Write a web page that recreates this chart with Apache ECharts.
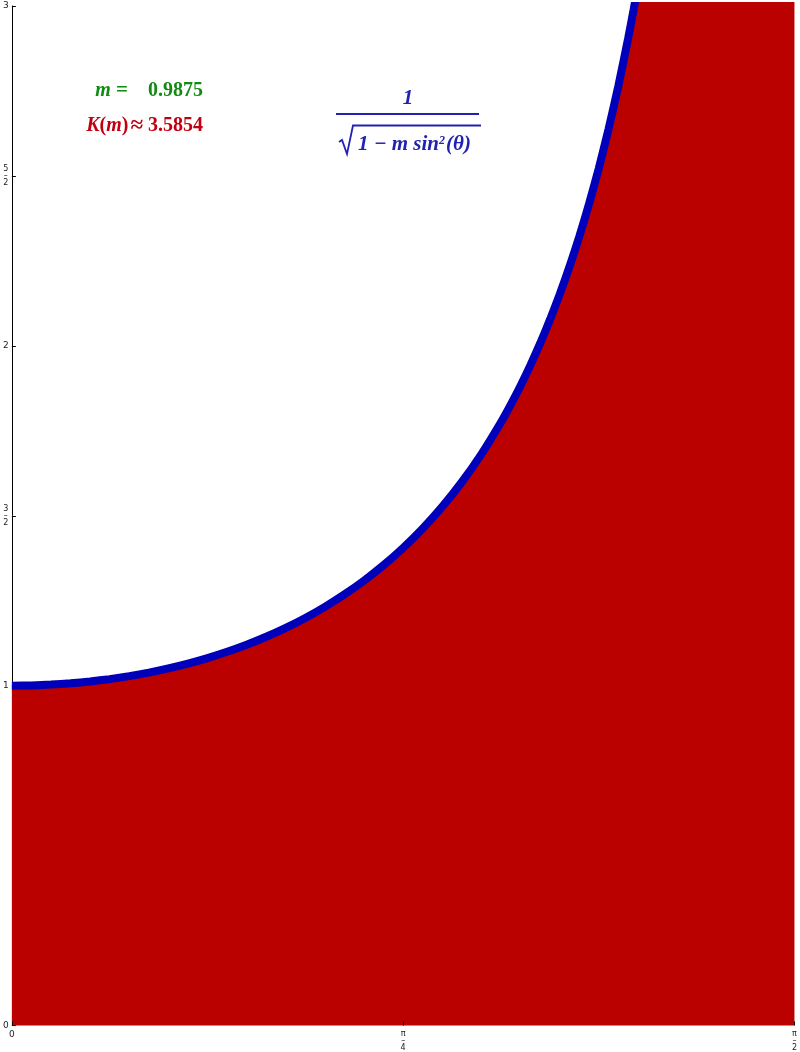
<!DOCTYPE html>
<html>
<head>
<meta charset="utf-8">
<script src="https://cdn.jsdelivr.net/npm/echarts@6/dist/echarts.min.js"></script>
<style>
html,body{margin:0;padding:0;background:#fff;}
#chart{width:800px;height:1052px;}
</style>
</head>
<body>
<div id="chart"></div>
<script>
// theta in degrees (axis runs 0..90 degrees = 0..pi/2)
var thetaDeg = [0, 2.25, 4.5, 6.75, 9, 11.25, 13.5, 15.75, 18, 20.25, 22.5, 24.75, 27, 29.25, 31.5, 33.75, 36, 38.25, 40.5, 42.75, 45, 47.25, 49.5, 51.75, 54, 56.25, 57.375, 58.5, 59.625, 60.75, 61.875, 63, 64.125, 65.25, 66.375, 67.5, 68.625, 69.75, 70.875, 71.5, 72, 74, 76.5, 81, 90];
// integrand values (clipped above 3 by the frame)
var integrand = [1, 1.0008, 1.0031, 1.0069, 1.0123, 1.0193, 1.0281, 1.0385, 1.0508, 1.0650, 1.0812, 1.0997, 1.1205, 1.1439, 1.1701, 1.1994, 1.2320, 1.2685, 1.3091, 1.3546, 1.4055, 1.4625, 1.5267, 1.5993, 1.6815, 1.7753, 1.8272, 1.8828, 1.9426, 2.0070, 2.0764, 2.1515, 2.2329, 2.3213, 2.4176, 2.5228, 2.6382, 2.7650, 2.9050, 2.9891, 3.0600, 3.380, 3.883, 5.222, 8.944];
var xTickValues = [0, 45, 90];
var xTickLabels = ['0', '{f|π}\n{f|–}\n{f|4}', '{f|π}\n{f|–}\n{f|2}'];
var yTickValues = [0, 1, 1.5, 2, 2.5, 3];
var yTickLabels = ['0', '1', '{f|3}\n{f|–}\n{f|2}', '2', '{f|5}\n{f|–}\n{f|2}', '3'];
var mValue = '0.9875';
var kValue = '3.5854';

var chart = echarts.init(document.getElementById('chart'), null, {renderer: 'canvas'});
var pts = thetaDeg.map(function (t, i) { return [t, integrand[i]]; });
var fracRich = {f: {fontSize: 8, lineHeight: 7, fontFamily: 'DejaVu Sans', color: '#222'}};
var SERIF = 'Liberation Serif';
var GREEN = '#138a13', RED = '#c00010', BLUE = '#2222b0';
function rs(color, size, italic) {
  return {fontSize: size, fontFamily: SERIF, fontWeight: 'bold', fontStyle: italic ? 'italic' : 'normal', fill: color, color: color};
}

var option = {
  backgroundColor: '#ffffff',
  animation: false,
  grid: {left: 11, right: 5, top: 6, bottom: 26, containLabel: false},
  xAxis: {
    type: 'value', min: 0, max: 90, interval: 45, z: 5,
    axisLine: {show: false},
    axisTick: {show: true, inside: true, length: 4, customValues: xTickValues, lineStyle: {color: '#000', width: 1}},
    axisLabel: {
      customValues: xTickValues, margin: 5, fontSize: 9, fontFamily: 'DejaVu Sans', color: '#222',
      rich: fracRich,
      formatter: function (v) { return xTickLabels[xTickValues.indexOf(v)]; }
    },
    splitLine: {show: false}
  },
  yAxis: {
    type: 'value', min: 0, max: 3, interval: 0.5,
    axisLine: {show: true, lineStyle: {color: '#000', width: 1}},
    axisTick: {show: true, inside: true, length: 4, customValues: yTickValues, lineStyle: {color: '#000', width: 1}},
    axisLabel: {
      customValues: yTickValues, margin: 6, align: 'center', fontSize: 9, fontFamily: 'DejaVu Sans', color: '#222',
      rich: fracRich,
      formatter: function (v) { return yTickLabels[yTickValues.indexOf(v)]; }
    },
    splitLine: {show: false}
  },
  series: [{
    type: 'line',
    data: pts,
    smooth: 0.2,
    symbol: 'none',
    clip: true,
    z: 2,
    lineStyle: {color: '#0000bb', width: 8, cap: 'butt'},
    areaStyle: {color: '#bb0000', opacity: 1}
  }],
  graphic: [
    {type: 'text', x: 128, y: 91, style: {
      text: '{i|m}{n|\u2005=}', align: 'right', verticalAlign: 'middle',
      rich: {i: rs(GREEN, 20, true), n: rs(GREEN, 21, false)}
    }},
    {type: 'text', x: 148, y: 91, style: {text: mValue, font: 'bold 20px "Liberation Serif"', fill: GREEN, align: 'left', verticalAlign: 'middle'}},
    {type: 'text', x: 143, y: 126, style: {
      text: '{i|K}{n|(}{i|m}{n|)}{a|\u200a≈}', align: 'right', verticalAlign: 'middle',
      rich: {i: rs(RED, 20, true), n: rs(RED, 20, false), a: rs(RED, 23, false)}
    }},
    {type: 'text', x: 148, y: 126, style: {text: kValue, font: 'bold 20px "Liberation Serif"', fill: RED, align: 'left', verticalAlign: 'middle'}},
    {type: 'text', x: 408, y: 99, style: {text: '1', font: 'italic bold 21px "Liberation Serif"', fill: BLUE, align: 'center', verticalAlign: 'middle'}},
    {type: 'line', shape: {x1: 336, y1: 114, x2: 479, y2: 114}, style: {stroke: BLUE, lineWidth: 2}},
    {type: 'polyline', shape: {points: [[339, 142], [342, 140], [347, 154], [353, 125.5], [481, 125.5]]}, style: {stroke: BLUE, lineWidth: 1.8, fill: null}},
    {type: 'text', x: 358, y: 145, style: {
      text: '{a|1 − m sin}{s|2}{a|(θ)}',
      align: 'left', verticalAlign: 'middle',
      rich: {
        a: rs(BLUE, 21, true),
        s: {fontSize: 12, fontStyle: 'italic', fontWeight: 'bold', fontFamily: SERIF, fill: BLUE, color: BLUE, verticalAlign: 'top', padding: [0, 1, 8, 0]}
      }
    }}
  ]
};
chart.setOption(option);
</script>
</body>
</html>
